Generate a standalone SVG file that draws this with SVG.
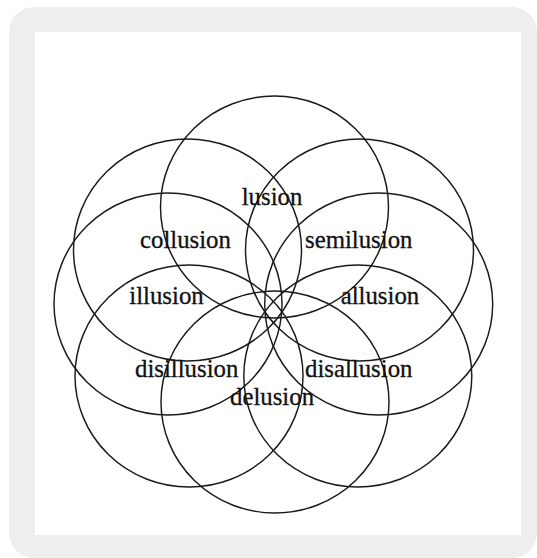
<svg xmlns="http://www.w3.org/2000/svg" width="537" height="558" viewBox="0 0 537 558">
  <style>
    .ring { fill: none; stroke: #1a1a1a; stroke-width: 1.45; }
    .lbl { font-family: "Liberation Serif", "Times New Roman", serif; font-size: 24.8px; fill: #111111; stroke: #111111; stroke-width: 0.3; }
  </style>
  <rect x="9" y="7" width="528" height="551" rx="25" ry="25" fill="#eeeeee"/>
  <rect x="35" y="32" width="486" height="503" fill="#ffffff"/>
  <g id="connectors"></g>
  <g id="node-lusion">
    <ellipse class="ring" cx="274.5" cy="207" rx="114" ry="111"/>
  </g>
  <g id="node-collusion">
    <ellipse class="ring" cx="187.5" cy="250" rx="114" ry="111"/>
  </g>
  <g id="node-semilusion">
    <ellipse class="ring" cx="359.5" cy="250" rx="114" ry="111"/>
  </g>
  <g id="node-illusion">
    <ellipse class="ring" cx="168" cy="304" rx="114" ry="111"/>
  </g>
  <g id="node-allusion">
    <ellipse class="ring" cx="378.7" cy="304" rx="114" ry="111"/>
  </g>
  <g id="node-disillusion">
    <ellipse class="ring" cx="189" cy="376" rx="114" ry="111"/>
  </g>
  <g id="node-disallusion">
    <ellipse class="ring" cx="357.8" cy="376" rx="114" ry="111"/>
  </g>
  <g id="node-delusion">
    <ellipse class="ring" cx="275" cy="402" rx="114" ry="111"/>
  </g>
  <g id="labels">
    <text class="lbl" x="241.7" y="205">lusion</text>
    <text class="lbl" x="140" y="248.3">collusion</text>
    <text class="lbl" x="305" y="248.3">semilusion</text>
    <text class="lbl" x="129.3" y="304">illusion</text>
    <text class="lbl" x="340.7" y="304">allusion</text>
    <text class="lbl" x="135" y="377.3">disillusion</text>
    <text class="lbl" x="305" y="377.3">disallusion</text>
    <text class="lbl" x="230" y="405">delusion</text>
  </g>
</svg>
